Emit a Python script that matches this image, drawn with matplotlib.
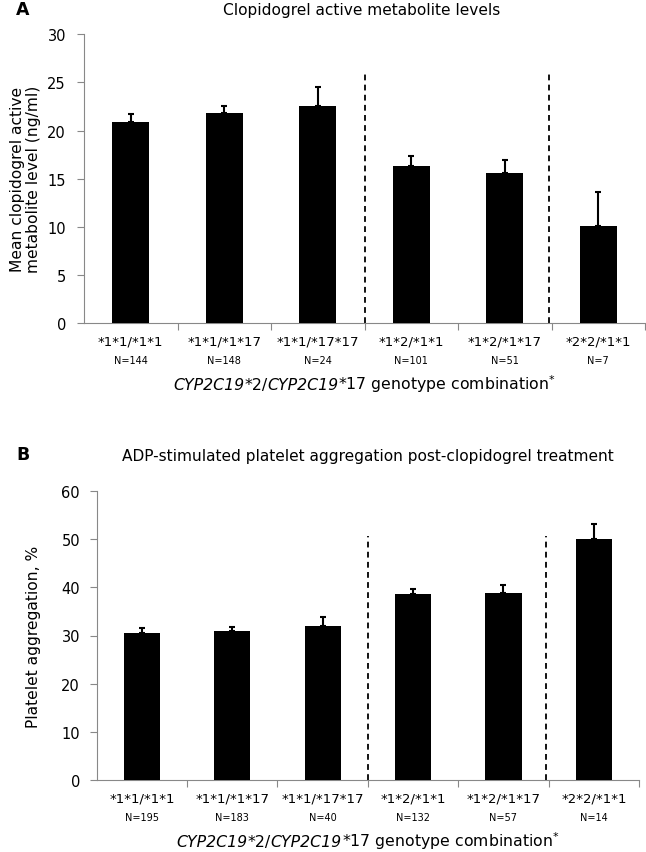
import matplotlib
matplotlib.use("Agg")
import matplotlib.pyplot as plt
from matplotlib import transforms
from matplotlib.offsetbox import TextArea, HPacker, AnnotationBbox

plt.rcParams['font.family'] = ['DejaVu Sans']
plt.rcParams['mathtext.fontset'] = 'dejavusans'

genotypes = ["*1*1/*1*1", "*1*1/*1*17", "*1*1/*17*17", "*1*2/*1*1", "*1*2/*1*17", "*2*2/*1*1"]

# Panel A: clopidogrel active metabolite levels (ng/ml)
a_values = [20.9, 21.8, 22.6, 16.35, 15.6, 10.1]
a_err = [0.8, 0.8, 1.9, 1.05, 1.3, 3.55]
a_n = ["N=144", "N=148", "N=24", "N=101", "N=51", "N=7"]

# Panel B: platelet aggregation (%)
b_values = [30.6, 30.85, 31.95, 38.6, 38.8, 49.95]
b_err = [0.9, 0.95, 1.95, 1.1, 1.6, 3.15]
b_n = ["N=195", "N=183", "N=40", "N=132", "N=57", "N=14"]

a_title = "Clopidogrel active metabolite levels"
b_title = "ADP-stimulated platelet aggregation post-clopidogrel treatment"
a_ylabel = "Mean clopidogrel active\nmetabolite level (ng/ml)"
b_ylabel = "Platelet aggregation, %"
# x label pieces: (text, italic)
xlabel_parts = [("CYP2C19", True), ("*2/", False), ("CYP2C19", True),
                ("*17 genotype combination$^{*}$", False)]

W, H = 646, 853
fig = plt.figure(figsize=(W / 100, H / 100), dpi=100)

def px_axes(l, r, b, t):
    return fig.add_axes([l / W, 1 - b / H, (r - l) / W, (b - t) / H])

def make_xlabel(ax):
    boxes = [TextArea(t, textprops=dict(fontsize=11.3, style='italic' if it else 'normal'))
             for t, it in xlabel_parts]
    hp = HPacker(children=boxes, align='baseline', pad=0, sep=0)
    ab = AnnotationBbox(hp, (0.5, 0), xycoords='axes fraction', xybox=(0, -43),
                        boxcoords='offset points', frameon=False,
                        box_alignment=(0.5, 0.5), pad=0, annotation_clip=False)
    ax.add_artist(ab)

def panel(ax, values, err, ns, ymax, ystep, dash_top, title, ylabel,
          letter, title_xy, letter_xy, ylab_x, tick_pad):
    x = list(range(len(values)))
    ax.bar(x, values, width=0.4, color='black', zorder=3)
    ax.errorbar(x, values, yerr=[[0] * len(err), err], fmt='none',
                ecolor='black', elinewidth=1.5, capsize=2.5, capthick=1.5, zorder=4)
    ax.vlines([2.5, 4.47], 0, dash_top, colors='black', linestyles=(0, (3.2, 2.4)),
              linewidth=1.3, zorder=2)
    ax.set_xlim(-0.5, len(values) - 0.5)
    ax.set_ylim(0, ymax)
    ax.set_yticks(range(0, ymax + 1, ystep))
    ax.tick_params(axis='y', length=5, color='#888888', labelsize=10.5, pad=tick_pad, width=0.8)
    ax.set_xticks(x)
    ax.set_xticklabels(genotypes, fontsize=9.5)
    ax.tick_params(axis='x', which='major', length=0, pad=8)
    ax.set_xticks([i + 0.5 for i in range(len(values))], minor=True)
    ax.tick_params(axis='x', which='minor', length=5, color='#888888', width=0.8)
    for s in ['top', 'right']:
        ax.spines[s].set_visible(False)
    for s in ['left', 'bottom']:
        ax.spines[s].set_color('#888888')
        ax.spines[s].set_linewidth(0.8)
    trans = transforms.blended_transform_factory(ax.transData, ax.transAxes)
    for xi, n in zip(x, ns):
        ax.annotate(n, xy=(xi, 0), xycoords=trans, xytext=(0, -26.5),
                    textcoords='offset points', ha='center', va='center', fontsize=7)
    make_xlabel(ax)
    ax.set_ylabel(ylabel, fontsize=11.2, linespacing=1.1)
    ax.yaxis.set_label_coords(ylab_x, 0.5)
    fig.text(title_xy[0] / W, 1 - title_xy[1] / H, title, ha='center', va='center', fontsize=11.1)
    fig.text(letter_xy[0] / W, 1 - letter_xy[1] / H, letter, ha='center', va='center',
             fontsize=12.5, fontweight='bold')

axA = px_axes(84, 645, 324.3, 35.3)
panel(axA, a_values, a_err, a_n, 30, 5, 26.2, a_title, a_ylabel, "A",
      (362, 11), (23, 10), -0.076, 8)

axB = px_axes(96.7, 639, 781.3, 491.7)
panel(axB, b_values, b_err, b_n, 60, 10, 50.6, b_title, b_ylabel, "B",
      (368, 457), (23, 455), -0.103, 7)

fig.savefig("out.png", dpi=100)
